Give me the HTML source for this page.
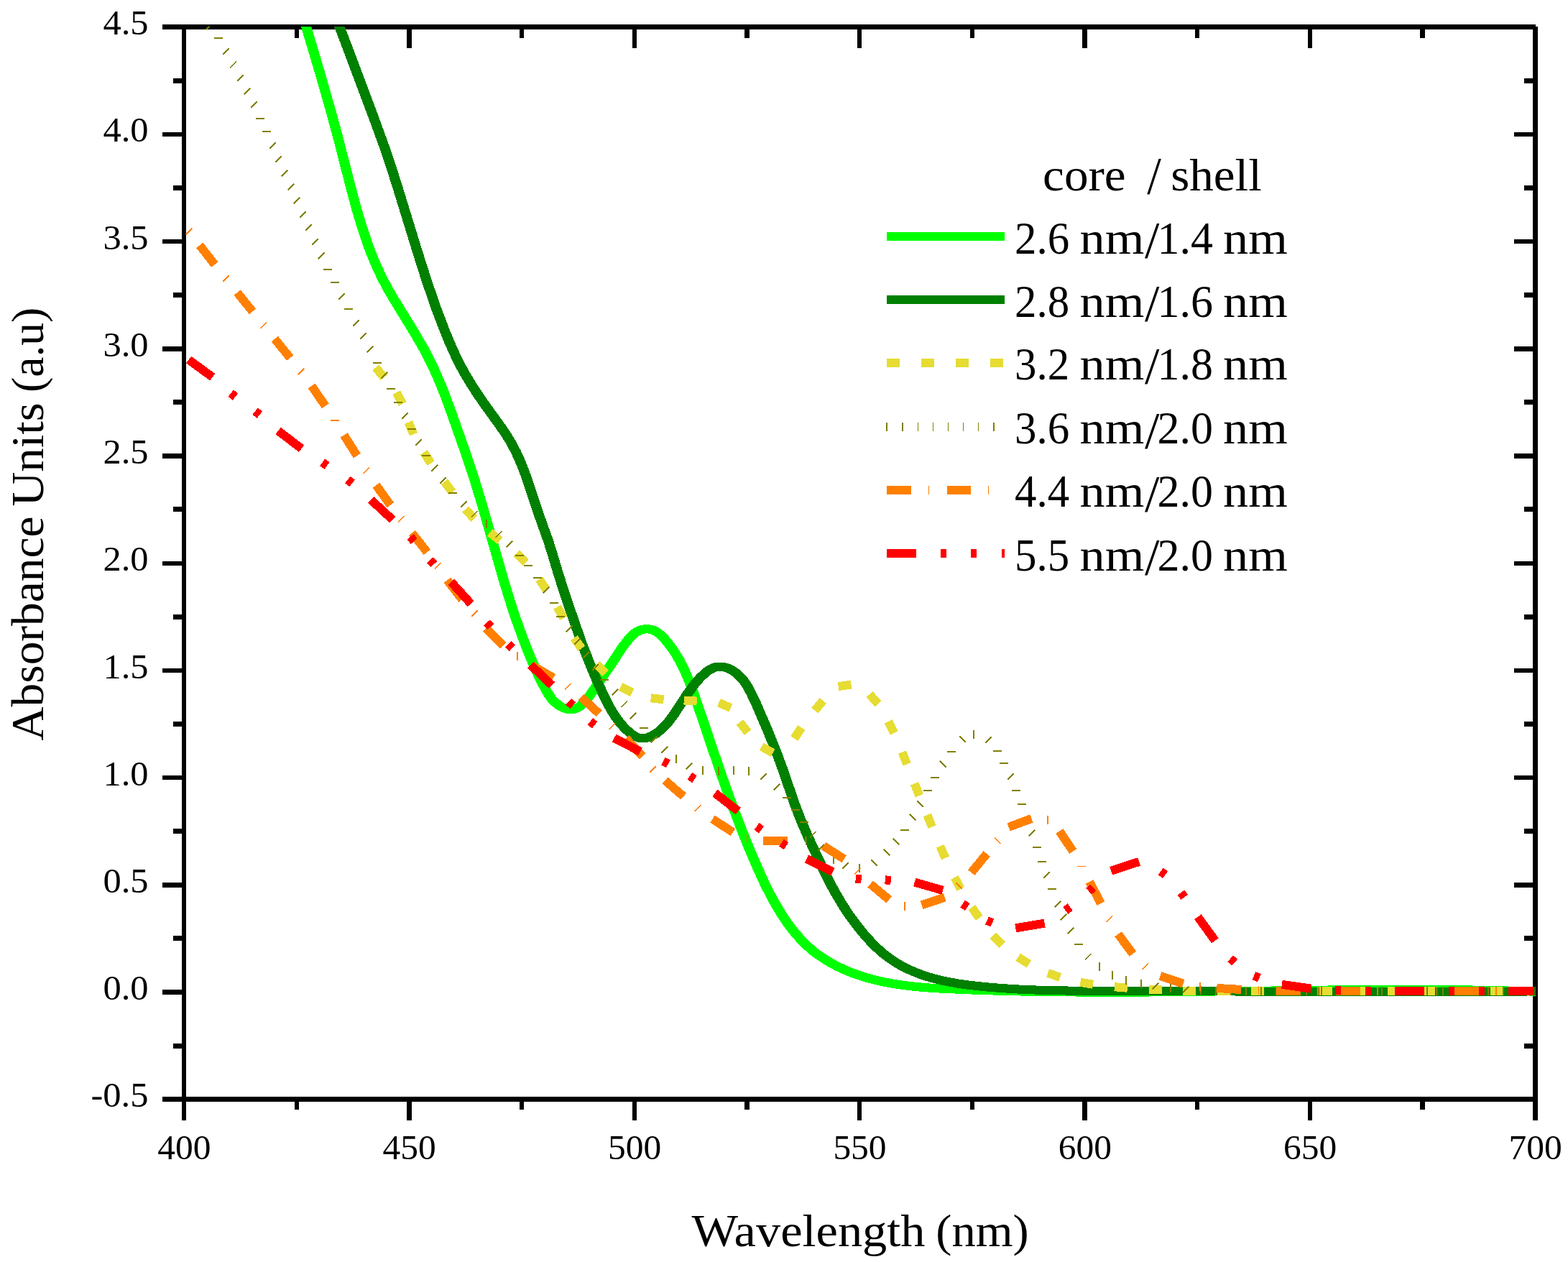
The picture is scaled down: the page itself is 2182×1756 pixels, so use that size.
<!DOCTYPE html>
<html lang="en"><head><meta charset="utf-8"><title>Absorbance spectra core/shell</title>
<style>html,body{margin:0;padding:0;background:#fff;}body{width:2182px;height:1756px;overflow:hidden;}svg{display:block;}text{font-family:"Liberation Serif","DejaVu Serif",serif;fill:#000;}.c{fill:none;stroke-width:12;stroke-linejoin:round;stroke-linecap:butt;}.m{fill:none;stroke-linecap:butt;}</style></head><body>
<svg width="2182" height="1756" viewBox="0 0 2182 1756" role="img" aria-label="Absorbance spectra of core/shell quantum dots">
<rect x="0" y="0" width="2182" height="1756" fill="#fff"/>
<defs><clipPath id="plot"><rect x="256" y="37" width="1881" height="1493"/></clipPath></defs>
<g fill="#000" shape-rendering="crispEdges">
<rect x="226" y="34" width="1911" height="7"/>
<rect x="226" y="1526" width="1914" height="7"/>
<rect x="253" y="34" width="6" height="1525"/>
<rect x="2133" y="37" width="7" height="1522"/>
<rect x="241" y="1451.5" width="13" height="7"/>
<rect x="2121" y="1451.5" width="13" height="7"/>
<rect x="226" y="1377.4" width="28" height="6.4"/>
<rect x="2107" y="1377.4" width="27" height="6.4"/>
<rect x="241" y="1302.3" width="13" height="7"/>
<rect x="2121" y="1302.3" width="13" height="7"/>
<rect x="226" y="1228.2" width="28" height="6.4"/>
<rect x="2107" y="1228.2" width="27" height="6.4"/>
<rect x="241" y="1153.1" width="13" height="7"/>
<rect x="2121" y="1153.1" width="13" height="7"/>
<rect x="226" y="1079.0" width="28" height="6.4"/>
<rect x="2107" y="1079.0" width="27" height="6.4"/>
<rect x="241" y="1003.9" width="13" height="7"/>
<rect x="2121" y="1003.9" width="13" height="7"/>
<rect x="226" y="929.8" width="28" height="6.4"/>
<rect x="2107" y="929.8" width="27" height="6.4"/>
<rect x="241" y="854.7" width="13" height="7"/>
<rect x="2121" y="854.7" width="13" height="7"/>
<rect x="226" y="780.5" width="28" height="6.4"/>
<rect x="2107" y="780.5" width="27" height="6.4"/>
<rect x="241" y="705.4" width="13" height="7"/>
<rect x="2121" y="705.4" width="13" height="7"/>
<rect x="226" y="631.3" width="28" height="6.4"/>
<rect x="2107" y="631.3" width="27" height="6.4"/>
<rect x="241" y="556.2" width="13" height="7"/>
<rect x="2121" y="556.2" width="13" height="7"/>
<rect x="226" y="482.1" width="28" height="6.4"/>
<rect x="2107" y="482.1" width="27" height="6.4"/>
<rect x="241" y="407.0" width="13" height="7"/>
<rect x="2121" y="407.0" width="13" height="7"/>
<rect x="226" y="332.9" width="28" height="6.4"/>
<rect x="2107" y="332.9" width="27" height="6.4"/>
<rect x="241" y="257.8" width="13" height="7"/>
<rect x="2121" y="257.8" width="13" height="7"/>
<rect x="226" y="183.7" width="28" height="6.4"/>
<rect x="2107" y="183.7" width="27" height="6.4"/>
<rect x="241" y="108.6" width="13" height="7"/>
<rect x="2121" y="108.6" width="13" height="7"/>
<rect x="409.5" y="40" width="6.4" height="13"/>
<rect x="409.5" y="1532" width="6.4" height="12"/>
<rect x="566.2" y="40" width="6.4" height="27"/>
<rect x="566.2" y="1532" width="6.4" height="27"/>
<rect x="722.9" y="40" width="6.4" height="13"/>
<rect x="722.9" y="1532" width="6.4" height="12"/>
<rect x="879.6" y="40" width="6.4" height="27"/>
<rect x="879.6" y="1532" width="6.4" height="27"/>
<rect x="1036.3" y="40" width="6.4" height="13"/>
<rect x="1036.3" y="1532" width="6.4" height="12"/>
<rect x="1193.0" y="40" width="6.4" height="27"/>
<rect x="1193.0" y="1532" width="6.4" height="27"/>
<rect x="1349.6" y="40" width="6.4" height="13"/>
<rect x="1349.6" y="1532" width="6.4" height="12"/>
<rect x="1506.3" y="40" width="6.4" height="27"/>
<rect x="1506.3" y="1532" width="6.4" height="27"/>
<rect x="1663.0" y="40" width="6.4" height="13"/>
<rect x="1663.0" y="1532" width="6.4" height="12"/>
<rect x="1819.7" y="40" width="6.4" height="27"/>
<rect x="1819.7" y="1532" width="6.4" height="27"/>
<rect x="1976.4" y="40" width="6.4" height="13"/>
<rect x="1976.4" y="1532" width="6.4" height="12"/>
</g>
<g font-size="48.8px">
<text x="206.5" y="1540.3" text-anchor="end" textLength="80.0" lengthAdjust="spacingAndGlyphs">-0.5</text>
<text x="206.5" y="1391.1" text-anchor="end" textLength="63.1" lengthAdjust="spacingAndGlyphs">0.0</text>
<text x="206.5" y="1241.9" text-anchor="end" textLength="63.1" lengthAdjust="spacingAndGlyphs">0.5</text>
<text x="206.5" y="1092.7" text-anchor="end" textLength="63.1" lengthAdjust="spacingAndGlyphs">1.0</text>
<text x="206.5" y="943.5" text-anchor="end" textLength="63.1" lengthAdjust="spacingAndGlyphs">1.5</text>
<text x="206.5" y="794.2" text-anchor="end" textLength="63.1" lengthAdjust="spacingAndGlyphs">2.0</text>
<text x="206.5" y="645.0" text-anchor="end" textLength="63.1" lengthAdjust="spacingAndGlyphs">2.5</text>
<text x="206.5" y="495.8" text-anchor="end" textLength="63.1" lengthAdjust="spacingAndGlyphs">3.0</text>
<text x="206.5" y="346.6" text-anchor="end" textLength="63.1" lengthAdjust="spacingAndGlyphs">3.5</text>
<text x="206.5" y="197.4" text-anchor="end" textLength="63.1" lengthAdjust="spacingAndGlyphs">4.0</text>
<text x="206.5" y="48.2" text-anchor="end" textLength="63.1" lengthAdjust="spacingAndGlyphs">4.5</text>
<text x="256.3" y="1612.7" text-anchor="middle" textLength="74.2" lengthAdjust="spacingAndGlyphs">400</text>
<text x="569.7" y="1612.7" text-anchor="middle" textLength="74.2" lengthAdjust="spacingAndGlyphs">450</text>
<text x="883.1" y="1612.7" text-anchor="middle" textLength="74.2" lengthAdjust="spacingAndGlyphs">500</text>
<text x="1196.5" y="1612.7" text-anchor="middle" textLength="74.2" lengthAdjust="spacingAndGlyphs">550</text>
<text x="1509.8" y="1612.7" text-anchor="middle" textLength="74.2" lengthAdjust="spacingAndGlyphs">600</text>
<text x="1823.2" y="1612.7" text-anchor="middle" textLength="74.2" lengthAdjust="spacingAndGlyphs">650</text>
<text x="2136.6" y="1612.7" text-anchor="middle" textLength="74.2" lengthAdjust="spacingAndGlyphs">700</text>
</g>
<text y="1734.3" font-size="62.5px"><tspan x="962.5" textLength="325" lengthAdjust="spacingAndGlyphs">Wavelength</tspan> <tspan x="1302.3" textLength="129.4" lengthAdjust="spacingAndGlyphs">(nm)</tspan></text>
<text transform="translate(60,1030.2) rotate(-90)" y="0" font-size="62.5px"><tspan x="-0.5" textLength="312.2" lengthAdjust="spacingAndGlyphs">Absorbance</tspan> <tspan x="325.4" textLength="144.5" lengthAdjust="spacingAndGlyphs">Units</tspan> <tspan x="484.2" textLength="118.3" lengthAdjust="spacingAndGlyphs">(a.u)</tspan></text>
<g clip-path="url(#plot)" shape-rendering="crispEdges">
<g class="c" stroke="#00ff00"><path transform="translate(-1,0)" d="M419.8 15.9L446.0 104.2L461.3 157.8L471.7 196.4L488.6 262.6L496.5 291.7L504.0 316.7L511.3 338.5L516.5 352.4L521.8 365.3L527.5 378.0L533.6 390.4L539.7 401.8L546.7 413.9L577.0 463.4L589.6 485.1L596.6 498.5L603.6 512.9L610.2 527.6L616.3 542.3L622.3 558.0L629.0 576.6L649.6 634.9L658.8 662.5L671.9 705.7L701.2 808.5L709.4 835.1L717.4 859.6L727.5 887.7L738.0 914.3L748.0 937.0L752.8 947.1L757.4 955.8L763.1 965.7L767.9 972.5L772.5 977.4L778.2 981.8L781.8 983.9L784.6 985.1L788.4 986.4L791.3 986.9L794.2 987.1L797.1 986.9L799.8 986.3L802.5 985.4L806.6 983.1L810.3 980.1L814.4 975.8L818.3 971.0L823.3 964.0L846.5 930.3L867.0 899.4L874.5 889.7L877.9 885.9L881.4 882.5L886.1 879.0L888.7 877.7L891.4 876.6L894.3 875.8L897.3 875.3L902.3 875.2L907.2 876.1L911.7 878.0L916.6 881.2L921.1 885.2L925.9 890.4L931.0 896.5L935.7 902.9L940.6 910.3L945.1 918.0L949.3 925.9L953.1 934.0L957.1 943.1L961.9 955.2L966.7 968.5L1001.9 1072.3L1012.1 1101.3L1022.0 1128.3L1032.6 1156.0L1043.5 1182.8L1054.7 1208.7L1064.4 1230.0L1072.7 1246.3L1080.5 1260.5L1088.3 1273.3L1096.8 1285.7L1105.2 1296.7L1114.3 1307.1L1123.4 1316.2L1132.4 1324.0L1139.7 1329.4L1148.1 1335.0L1156.7 1340.2L1165.6 1344.9L1174.6 1349.1L1184.7 1353.3L1195.0 1357.0L1205.5 1360.3L1216.1 1363.2L1227.7 1365.9L1239.5 1368.2L1252.3 1370.2L1265.1 1371.9L1279.0 1373.4L1294.0 1374.6L1311.0 1375.7L1355.0 1377.6L1404.0 1379.2L1454.0 1380.1L1508.0 1380.6L1561.0 1380.7L1620.0 1380.4L1848.9 1377.5L1945.9 1376.8L1998.9 1376.9L2047.9 1377.5L2093.9 1378.4L2139.0 1379.8"/><path transform="translate(1,0)" d="M419.8 15.9L446.0 104.2L461.3 157.8L471.7 196.4L488.6 262.6L496.5 291.7L504.0 316.7L511.3 338.5L516.5 352.4L521.8 365.3L527.5 378.0L533.6 390.4L539.7 401.8L546.7 413.9L577.0 463.4L589.6 485.1L596.6 498.5L603.6 512.9L610.2 527.6L616.3 542.3L622.3 558.0L629.0 576.6L649.6 634.9L658.8 662.5L671.9 705.7L701.2 808.5L709.4 835.1L717.4 859.6L727.5 887.7L738.0 914.3L748.0 937.0L752.8 947.1L757.4 955.8L763.1 965.7L767.9 972.5L772.5 977.4L778.2 981.8L781.8 983.9L784.6 985.1L788.4 986.4L791.3 986.9L794.2 987.1L797.1 986.9L799.8 986.3L802.5 985.4L806.6 983.1L810.3 980.1L814.4 975.8L818.3 971.0L823.3 964.0L846.5 930.3L867.0 899.4L874.5 889.7L877.9 885.9L881.4 882.5L886.1 879.0L888.7 877.7L891.4 876.6L894.3 875.8L897.3 875.3L902.3 875.2L907.2 876.1L911.7 878.0L916.6 881.2L921.1 885.2L925.9 890.4L931.0 896.5L935.7 902.9L940.6 910.3L945.1 918.0L949.3 925.9L953.1 934.0L957.1 943.1L961.9 955.2L966.7 968.5L1001.9 1072.3L1012.1 1101.3L1022.0 1128.3L1032.6 1156.0L1043.5 1182.8L1054.7 1208.7L1064.4 1230.0L1072.7 1246.3L1080.5 1260.5L1088.3 1273.3L1096.8 1285.7L1105.2 1296.7L1114.3 1307.1L1123.4 1316.2L1132.4 1324.0L1139.7 1329.4L1148.1 1335.0L1156.7 1340.2L1165.6 1344.9L1174.6 1349.1L1184.7 1353.3L1195.0 1357.0L1205.5 1360.3L1216.1 1363.2L1227.7 1365.9L1239.5 1368.2L1252.3 1370.2L1265.1 1371.9L1279.0 1373.4L1294.0 1374.6L1311.0 1375.7L1355.0 1377.6L1404.0 1379.2L1454.0 1380.1L1508.0 1380.6L1561.0 1380.7L1620.0 1380.4L1848.9 1377.5L1945.9 1376.8L1998.9 1376.9L2047.9 1377.5L2093.9 1378.4L2139.0 1379.8"/></g>
<g class="c" stroke="#008000"><path transform="translate(-1,0)" d="M463.5 15.9L473.4 39.9L484.1 67.7L521.0 166.2L534.4 203.1L542.8 227.8L551.7 255.4L581.0 350.6L592.8 387.7L605.7 425.6L618.1 458.3L626.0 477.6L633.4 493.9L640.4 508.2L648.2 522.3L656.6 536.2L666.6 551.4L676.5 565.6L696.4 593.1L705.2 606.1L709.8 613.6L714.1 621.3L718.1 629.1L722.3 638.0L727.2 649.8L732.4 663.7L749.6 715.3L762.7 751.8L766.7 764.3L778.2 802.3L786.1 826.9L793.1 847.6L811.1 899.1L823.0 928.9L833.7 953.9L842.7 973.3L850.4 987.6L856.8 997.8L863.4 1006.5L870.0 1013.8L877.2 1020.3L882.8 1024.1L886.1 1025.7L888.7 1026.6L891.3 1027.2L894.1 1027.4L896.9 1027.2L900.7 1026.5L903.5 1025.6L907.3 1024.0L913.6 1020.3L920.2 1015.1L926.0 1009.3L932.0 1002.2L938.0 994.0L957.1 964.9L965.3 953.6L970.3 947.4L975.2 942.2L980.4 937.3L985.1 933.5L990.2 930.4L995.5 928.3L1000.2 927.5L1004.9 927.7L1010.7 929.0L1016.2 931.3L1021.4 934.3L1026.8 938.5L1030.3 941.9L1033.6 945.6L1036.6 949.6L1039.4 953.8L1044.9 963.7L1051.6 977.8L1068.2 1016.2L1080.1 1045.6L1089.4 1070.9L1105.9 1119.0L1114.6 1141.5L1123.0 1161.0L1134.4 1185.8L1146.7 1211.8L1156.0 1230.4L1164.1 1245.1L1172.7 1259.5L1181.5 1272.9L1191.0 1285.8L1201.1 1298.5L1211.3 1309.9L1220.7 1319.3L1230.6 1328.0L1237.7 1333.4L1246.0 1338.9L1253.6 1343.4L1262.3 1347.9L1271.2 1351.9L1280.4 1355.5L1289.7 1358.7L1300.2 1361.7L1310.8 1364.3L1321.5 1366.5L1333.4 1368.6L1346.4 1370.5L1361.4 1372.2L1377.5 1373.8L1411.7 1376.3L1450.8 1377.9L1494.8 1378.7L1647.5 1379.1L1879.7 1380.4L2019.8 1380.5L2081.0 1380.1L2138.5 1379.3"/><path transform="translate(1,0)" d="M463.5 15.9L473.4 39.9L484.1 67.7L521.0 166.2L534.4 203.1L542.8 227.8L551.7 255.4L581.0 350.6L592.8 387.7L605.7 425.6L618.1 458.3L626.0 477.6L633.4 493.9L640.4 508.2L648.2 522.3L656.6 536.2L666.6 551.4L676.5 565.6L696.4 593.1L705.2 606.1L709.8 613.6L714.1 621.3L718.1 629.1L722.3 638.0L727.2 649.8L732.4 663.7L749.6 715.3L762.7 751.8L766.7 764.3L778.2 802.3L786.1 826.9L793.1 847.6L811.1 899.1L823.0 928.9L833.7 953.9L842.7 973.3L850.4 987.6L856.8 997.8L863.4 1006.5L870.0 1013.8L877.2 1020.3L882.8 1024.1L886.1 1025.7L888.7 1026.6L891.3 1027.2L894.1 1027.4L896.9 1027.2L900.7 1026.5L903.5 1025.6L907.3 1024.0L913.6 1020.3L920.2 1015.1L926.0 1009.3L932.0 1002.2L938.0 994.0L957.1 964.9L965.3 953.6L970.3 947.4L975.2 942.2L980.4 937.3L985.1 933.5L990.2 930.4L995.5 928.3L1000.2 927.5L1004.9 927.7L1010.7 929.0L1016.2 931.3L1021.4 934.3L1026.8 938.5L1030.3 941.9L1033.6 945.6L1036.6 949.6L1039.4 953.8L1044.9 963.7L1051.6 977.8L1068.2 1016.2L1080.1 1045.6L1089.4 1070.9L1105.9 1119.0L1114.6 1141.5L1123.0 1161.0L1134.4 1185.8L1146.7 1211.8L1156.0 1230.4L1164.1 1245.1L1172.7 1259.5L1181.5 1272.9L1191.0 1285.8L1201.1 1298.5L1211.3 1309.9L1220.7 1319.3L1230.6 1328.0L1237.7 1333.4L1246.0 1338.9L1253.6 1343.4L1262.3 1347.9L1271.2 1351.9L1280.4 1355.5L1289.7 1358.7L1300.2 1361.7L1310.8 1364.3L1321.5 1366.5L1333.4 1368.6L1346.4 1370.5L1361.4 1372.2L1377.5 1373.8L1411.7 1376.3L1450.8 1377.9L1494.8 1378.7L1647.5 1379.1L1879.7 1380.4L2019.8 1380.5L2081.0 1380.1L2138.5 1379.3"/></g>
<g class="c" stroke="#e6dc32">
<path d="M522.9 511.3L534.3 525.3"/>
<path d="M551.7 546.1L560.2 562.0"/>
<path d="M568.5 587.6L575.5 604.2"/>
<path d="M589.8 629.4L599.6 644.6"/>
<path d="M618.6 670.3L629.4 684.8"/>
<path d="M647.6 708.6L659.9 721.7"/>
<path d="M681.8 740.8L695.7 752.2"/>
<path d="M718.7 769.9L731.6 782.5"/>
<path d="M750.3 806.0L760.6 820.8"/>
<path d="M775.4 844.6L784.3 860.2"/>
<path d="M798.9 887.6L809.3 902.3"/>
<path d="M830.0 924.1L842.8 936.8"/>
<path d="M863.6 955.7L879.7 963.8"/>
<path d="M905.7 971.3L923.6 973.3"/>
<path d="M951.7 974.5L969.7 975.6"/>
<path d="M1000.4 977.7L1016.8 985.1"/>
<path d="M1029.5 1005.0L1040.7 1019.1"/>
<path d="M1059.9 1038.8L1075.5 1047.7"/>
<path d="M1105.3 1027.6L1115.3 1012.6"/>
<path d="M1133.8 988.7L1145.3 974.9"/>
<path d="M1166.7 955.1L1184.5 952.6"/>
<path d="M1210.0 966.1L1222.1 979.4"/>
<path d="M1236.3 1003.7L1244.3 1019.9"/>
<path d="M1255.5 1046.7L1262.2 1063.4"/>
<path d="M1272.7 1090.4L1279.3 1107.1"/>
<path d="M1290.3 1134.0L1297.1 1150.6"/>
<path d="M1308.3 1177.4L1315.5 1193.9"/>
<path d="M1328.4 1221.0L1336.9 1236.9"/>
<path d="M1352.5 1262.5L1362.7 1277.4"/>
<path d="M1382.0 1301.7L1394.7 1314.4"/>
<path d="M1416.7 1331.9L1432.0 1341.4"/>
<path d="M1458.2 1354.0L1475.2 1359.8"/>
<path d="M1503.4 1366.9L1521.1 1369.8"/>
<path d="M1550.9 1373.2L1568.9 1374.7"/>
<path d="M1598.8 1376.5L1616.8 1377.4"/>
<path d="M1646.3 1378.7L1664.3 1379.0"/>
<path d="M1693.8 1379.1L1711.8 1379.2"/>
<path d="M1741.3 1379.3L1759.3 1379.3"/>
<path d="M1788.8 1379.3L1806.8 1379.3"/>
<path d="M1836.3 1379.3L1854.3 1379.3"/>
<path d="M1883.8 1379.3L1901.8 1379.3"/>
<path d="M1931.3 1379.3L1949.3 1379.3"/>
<path d="M1978.8 1379.3L1996.8 1379.3"/>
<path d="M2026.3 1379.3L2044.3 1379.3"/>
<path d="M2073.8 1379.3L2091.8 1379.3"/>
<path d="M2121.3 1379.3L2134.4 1379.3"/>
</g>
<g class="m" stroke="#808000" stroke-width="2">
<path d="M286.5 41.4L295.1 32.8"/>
<path d="M298.2 53.3L310.2 53.3"/>
<path d="M310.3 75.8L318.9 67.2"/>
<path d="M320.2 94.3L328.8 85.7"/>
<path d="M330.2 112.8L338.8 104.2"/>
<path d="M339.7 131.5L348.3 122.9"/>
<path d="M349.2 150.2L357.8 141.6"/>
<path d="M356.1 165.1L368.1 165.1"/>
<path d="M364.8 183.1L376.8 183.1"/>
<path d="M375.2 206.5L383.8 197.9"/>
<path d="M383.5 225.8L392.1 217.2"/>
<path d="M391.8 245.1L400.4 236.5"/>
<path d="M400.4 264.3L409.0 255.7"/>
<path d="M408.7 283.6L417.3 275.0"/>
<path d="M416.9 302.9L425.5 294.3"/>
<path d="M425.1 321.1L433.7 312.5"/>
<path d="M434.2 341.2L442.8 332.6"/>
<path d="M443.0 360.2L451.6 351.6"/>
<path d="M450.1 375.0L462.1 375.0"/>
<path d="M460.1 393.4L472.1 393.4"/>
<path d="M471.2 416.5L479.8 407.9"/>
<path d="M478.8 429.9L490.8 429.9"/>
<path d="M491.1 453.5L499.7 444.9"/>
<path d="M501.0 472.0L509.6 463.4"/>
<path d="M510.7 490.6L519.3 482.0"/>
<path d="M519.2 504.7L531.2 504.7"/>
<path d="M530.5 526.5L539.1 517.9"/>
<path d="M538.3 540.9L550.3 540.9"/>
<path d="M548.1 559.5L560.1 559.5"/>
<path d="M559.2 582.6L567.8 574.0"/>
<path d="M566.7 597.2L578.7 597.2"/>
<path d="M578.3 620.0L586.9 611.4"/>
<path d="M587.4 633.7L599.4 633.7"/>
<path d="M600.5 655.6L609.1 647.0"/>
<path d="M612.2 673.1L620.8 664.5"/>
<path d="M624.1 686.1L636.1 686.1"/>
<path d="M641.4 705.9L650.0 697.3"/>
<path d="M656.1 719.4L664.7 710.8"/>
<path d="M677.3 723.1L677.3 735.1"/>
<path d="M689.7 747.8L698.3 739.2"/>
<path d="M704.5 761.3L713.1 752.7"/>
<path d="M716.9 772.5L728.9 772.5"/>
<path d="M729.0 787.2L741.0 787.2"/>
<path d="M741.6 804.0L753.6 804.0"/>
<path d="M755.4 825.4L764.0 816.8"/>
<path d="M764.8 839.0L776.8 839.0"/>
<path d="M774.4 857.6L786.4 857.6"/>
<path d="M788.0 879.2L796.6 870.6"/>
<path d="M799.5 896.8L808.1 888.2"/>
<path d="M811.6 915.1L820.2 906.5"/>
<path d="M824.4 933.0L833.0 924.4"/>
<path d="M835.0 945.7L847.0 945.7"/>
<path d="M851.9 967.3L860.5 958.7"/>
<path d="M864.4 984.1L873.0 975.5"/>
<path d="M876.6 1000.0L885.2 991.4"/>
<path d="M889.9 1013.1L901.9 1013.1"/>
<path d="M905.7 1033.0L914.3 1024.4"/>
<path d="M920.6 1047.8L929.2 1039.2"/>
<path d="M940.7 1049.7L940.7 1061.7"/>
<path d="M954.7 1070.2L963.3 1061.6"/>
<path d="M978.0 1066.1L978.0 1078.1"/>
<path d="M999.9 1067.1L999.9 1079.1"/>
<path d="M1020.9 1066.0L1020.9 1078.0"/>
<path d="M1041.8 1067.2L1041.8 1079.2"/>
<path d="M1058.1 1084.6L1066.7 1076.0"/>
<path d="M1076.9 1099.5L1085.5 1090.9"/>
<path d="M1088.8 1109.9L1100.8 1109.9"/>
<path d="M1101.0 1127.0L1113.0 1127.0"/>
<path d="M1113.0 1144.2L1125.0 1144.2"/>
<path d="M1126.8 1165.7L1135.4 1157.1"/>
<path d="M1138.5 1183.1L1147.1 1174.5"/>
<path d="M1159.9 1189.7L1159.9 1201.7"/>
<path d="M1172.1 1209.1L1180.7 1200.5"/>
<path d="M1195.9 1202.2L1195.9 1214.2"/>
<path d="M1211.9 1196.3L1220.5 1204.9"/>
<path d="M1229.7 1181.6L1238.3 1190.2"/>
<path d="M1242.9 1166.6L1251.5 1175.2"/>
<path d="M1252.8 1154.6L1264.8 1154.6"/>
<path d="M1266.0 1132.8L1274.6 1141.4"/>
<path d="M1276.3 1114.5L1284.9 1123.1"/>
<path d="M1284.7 1100.4L1296.7 1100.4"/>
<path d="M1294.9 1082.0L1306.9 1082.0"/>
<path d="M1308.1 1058.9L1316.7 1067.5"/>
<path d="M1318.0 1045.7L1330.0 1045.7"/>
<path d="M1335.2 1024.5L1343.8 1033.1"/>
<path d="M1354.6 1016.0L1354.6 1028.0"/>
<path d="M1371.2 1033.9L1379.8 1025.3"/>
<path d="M1381.7 1045.3L1393.7 1045.3"/>
<path d="M1391.3 1061.8L1403.3 1061.8"/>
<path d="M1402.2 1084.9L1410.8 1076.3"/>
<path d="M1408.2 1100.2L1420.2 1100.2"/>
<path d="M1415.6 1118.7L1427.6 1118.7"/>
<path d="M1424.8 1143.2L1433.4 1134.6"/>
<path d="M1431.8 1163.5L1440.4 1154.9"/>
<path d="M1436.7 1179.2L1448.7 1179.2"/>
<path d="M1443.6 1199.0L1455.6 1199.0"/>
<path d="M1452.1 1222.1L1460.7 1213.5"/>
<path d="M1458.0 1237.4L1470.0 1237.4"/>
<path d="M1467.8 1262.1L1476.4 1253.5"/>
<path d="M1475.9 1280.4L1484.5 1271.8"/>
<path d="M1485.6 1299.1L1494.2 1290.5"/>
<path d="M1494.7 1313.9L1506.7 1313.9"/>
<path d="M1510.0 1335.5L1518.6 1326.9"/>
<path d="M1529.7 1339.4L1529.7 1351.4"/>
<path d="M1548.4 1350.9L1548.4 1362.9"/>
<path d="M1567.0 1358.3L1567.0 1370.3"/>
<path d="M1587.5 1362.8L1587.5 1374.8"/>
<path d="M1603.9 1376.2L1612.5 1367.6"/>
<path d="M1629.1 1368.8L1629.1 1380.8"/>
<path d="M1645.7 1381.0L1654.3 1372.4"/>
<path d="M1671.0 1372.1L1671.0 1384.1"/>
<path d="M1692.0 1372.9L1692.0 1384.9"/>
<path d="M1713.0 1373.1L1713.0 1385.1"/>
<path d="M1734.1 1373.2L1734.1 1385.2"/>
<path d="M1755.1 1373.2L1755.1 1385.2"/>
<path d="M1776.1 1373.3L1776.1 1385.3"/>
<path d="M1797.2 1373.3L1797.2 1385.3"/>
<path d="M1818.2 1373.3L1818.2 1385.3"/>
<path d="M1839.2 1373.3L1839.2 1385.3"/>
<path d="M1860.2 1373.3L1860.2 1385.3"/>
<path d="M1881.3 1373.3L1881.3 1385.3"/>
<path d="M1902.3 1373.3L1902.3 1385.3"/>
<path d="M1923.3 1373.3L1923.3 1385.3"/>
<path d="M1944.4 1373.3L1944.4 1385.3"/>
<path d="M1965.4 1373.3L1965.4 1385.3"/>
<path d="M1986.4 1373.3L1986.4 1385.3"/>
<path d="M2007.5 1373.3L2007.5 1385.3"/>
<path d="M2028.5 1373.3L2028.5 1385.3"/>
<path d="M2049.5 1373.3L2049.5 1385.3"/>
<path d="M2070.5 1373.3L2070.5 1385.3"/>
<path d="M2091.6 1373.3L2091.6 1385.3"/>
<path d="M2112.6 1373.3L2112.6 1385.3"/>
<path d="M2133.6 1373.3L2133.6 1385.3"/>
</g>
<g class="c" stroke="#ff8000">
<path d="M238.4 292.7L247.3 303.4"/>
<path d="M277.8 341.3L298.8 368.1"/>
<path d="M330.1 407.1L351.5 433.5"/>
<path d="M382.3 471.6L403.7 498.0"/>
<path d="M433.6 536.9L452.8 564.9"/>
<path d="M478.7 605.4L496.8 634.1"/>
<path d="M523.5 675.2L543.3 702.8"/>
<path d="M573.3 741.6L594.4 768.3"/>
<path d="M622.4 807.2L643.1 834.2"/>
<path d="M676.5 874.1L700.3 898.4"/>
<path d="M740.6 926.1L770.1 943.1"/>
<path d="M808.6 969.9L833.7 992.9"/>
<path d="M871.2 1027.4L894.2 1052.4"/>
<path d="M925.4 1086.0L951.2 1108.2"/>
<path d="M991.5 1139.6L1020.0 1158.1"/>
<path d="M1062.0 1169.9L1095.9 1170.4"/>
<path d="M1146.0 1177.1L1174.7 1195.3"/>
<path d="M1211.1 1230.0L1237.2 1251.8"/>
<path d="M1282.5 1259.3L1314.7 1248.5"/>
<path d="M1351.7 1214.2L1373.2 1187.9"/>
<path d="M1403.6 1150.9L1435.5 1139.0"/>
<path d="M1474.3 1156.4L1493.2 1184.7"/>
<path d="M1516.3 1227.0L1531.9 1257.2"/>
<path d="M1556.1 1299.8L1576.3 1327.2"/>
<path d="M1614.5 1357.9L1646.7 1368.8"/>
<path d="M1693.3 1374.9L1727.3 1377.0"/>
<path d="M1775.9 1379.0L1809.9 1379.1"/>
<path d="M1858.6 1379.3L1892.6 1379.3"/>
<path d="M1941.3 1379.3L1975.3 1379.3"/>
<path d="M2023.9 1379.3L2057.9 1379.3"/>
<path d="M2106.6 1379.3L2133.8 1379.3"/>
</g>
<g class="m" stroke="#ff8000" stroke-width="1.7">
<path d="M258.5 326.5L267.1 317.9"/>
<path d="M310.0 392.0L318.6 383.4"/>
<path d="M362.6 456.9L371.2 448.3"/>
<path d="M414.7 521.5L423.3 512.9"/>
<path d="M459.7 585.2L471.7 585.2"/>
<path d="M505.6 659.2L514.2 650.6"/>
<path d="M553.9 726.6L562.5 718.0"/>
<path d="M604.8 791.5L613.4 782.9"/>
<path d="M656.1 857.9L664.7 849.3"/>
<path d="M719.8 907.2L719.8 919.2"/>
<path d="M785.8 959.7L794.4 951.1"/>
<path d="M847.6 1015.0L856.2 1006.4"/>
<path d="M904.3 1074.7L912.9 1066.1"/>
<path d="M966.6 1128.7L975.2 1120.1"/>
<path d="M1040.1 1160.8L1040.1 1172.8"/>
<path d="M1121.6 1163.8L1121.6 1175.8"/>
<path d="M1189.1 1216.5L1197.7 1207.9"/>
<path d="M1258.8 1254.6L1258.8 1266.6"/>
<path d="M1330.0 1228.1L1338.6 1236.7"/>
<path d="M1384.2 1165.5L1392.8 1174.1"/>
<path d="M1458.2 1134.9L1458.2 1146.9"/>
<path d="M1499.3 1205.6L1511.3 1205.6"/>
<path d="M1539.4 1283.0L1548.0 1274.4"/>
<path d="M1589.5 1348.8L1598.1 1340.2"/>
<path d="M1669.9 1366.5L1669.9 1378.5"/>
<path d="M1751.6 1372.2L1751.6 1384.2"/>
<path d="M1834.2 1373.2L1834.2 1385.2"/>
<path d="M1916.9 1373.3L1916.9 1385.3"/>
<path d="M1999.6 1373.3L1999.6 1385.3"/>
<path d="M2082.3 1373.3L2082.3 1385.3"/>
</g>
<g class="c" stroke="#ff0000">
<path d="M232.8 482.0L234.0 482.8"/>
<path d="M262.6 500.6L295.7 524.7"/>
<path d="M321.3 547.2L327.6 552.1"/>
<path d="M355.0 572.2L361.3 577.1"/>
<path d="M387.1 599.4L419.6 624.3"/>
<path d="M448.6 643.4L455.2 647.9"/>
<path d="M483.8 667.5L490.1 672.4"/>
<path d="M516.1 695.3L546.2 723.2"/>
<path d="M570.8 747.1L576.3 752.9"/>
<path d="M598.5 779.1L603.8 785.1"/>
<path d="M627.8 809.7L655.2 840.1"/>
<path d="M677.5 866.3L682.9 872.2"/>
<path d="M707.4 896.3L713.1 901.8"/>
<path d="M738.3 925.2L768.0 953.4"/>
<path d="M791.5 976.2L797.3 981.7"/>
<path d="M821.3 1003.8L827.6 1008.8"/>
<path d="M854.7 1027.1L891.2 1045.8"/>
<path d="M922.8 1059.2L929.9 1062.8"/>
<path d="M959.8 1079.8L966.5 1084.1"/>
<path d="M994.9 1103.5L1027.3 1128.6"/>
<path d="M1053.0 1149.9L1059.5 1154.6"/>
<path d="M1087.4 1172.8L1094.1 1177.1"/>
<path d="M1122.3 1195.0L1159.1 1213.1"/>
<path d="M1190.7 1222.7L1198.6 1223.3"/>
<path d="M1231.7 1224.4L1239.7 1224.9"/>
<path d="M1272.7 1227.5L1312.1 1238.9"/>
<path d="M1339.7 1257.6L1346.3 1262.0"/>
<path d="M1373.5 1280.9L1380.8 1284.2"/>
<path d="M1413.2 1291.5L1453.6 1284.6"/>
<path d="M1482.7 1266.9L1489.2 1262.2"/>
<path d="M1515.2 1240.2L1521.1 1234.8"/>
<path d="M1546.1 1211.7L1585.1 1199.0"/>
<path d="M1615.1 1212.4L1621.5 1217.2"/>
<path d="M1643.4 1241.9L1648.3 1248.3"/>
<path d="M1666.9 1275.7L1690.9 1308.9"/>
<path d="M1712.2 1333.8L1718.1 1339.2"/>
<path d="M1745.0 1357.7L1752.4 1360.8"/>
<path d="M1783.9 1369.8L1824.5 1375.6"/>
<path d="M1858.1 1378.1L1866.1 1378.4"/>
<path d="M1899.7 1379.0L1907.7 1379.1"/>
<path d="M1941.4 1379.3L1982.4 1379.3"/>
<path d="M2016.0 1379.3L2024.0 1379.3"/>
<path d="M2057.7 1379.3L2065.7 1379.3"/>
<path d="M2099.3 1379.3L2134.6 1379.3"/>
</g>
</g>
<g font-size="62.4px">
<text y="264.6"><tspan x="1451.1" textLength="115.6" lengthAdjust="spacingAndGlyphs">core</tspan> <tspan x="1596.3" dy="5.8" font-size="73px" textLength="19.6" lengthAdjust="spacingAndGlyphs">/</tspan> <tspan x="1629.2" dy="-5.8" textLength="126.6" lengthAdjust="spacingAndGlyphs">shell</tspan></text>
<text y="352.8"><tspan x="1412.1" textLength="76.2" lengthAdjust="spacingAndGlyphs">2.6</tspan> <tspan x="1502.6" textLength="89.7" lengthAdjust="spacingAndGlyphs">nm</tspan><tspan x="1593" dy="5.3" font-size="72.5px" textLength="20.4" lengthAdjust="spacingAndGlyphs">/</tspan><tspan x="1610.6" dy="-5.3" textLength="77.5" lengthAdjust="spacingAndGlyphs">1.4</tspan> <tspan x="1702.1" textLength="89.7" lengthAdjust="spacingAndGlyphs">nm</tspan></text>
<text y="440.6"><tspan x="1412.1" textLength="76.2" lengthAdjust="spacingAndGlyphs">2.8</tspan> <tspan x="1502.6" textLength="89.7" lengthAdjust="spacingAndGlyphs">nm</tspan><tspan x="1593" dy="5.3" font-size="72.5px" textLength="20.4" lengthAdjust="spacingAndGlyphs">/</tspan><tspan x="1610.6" dy="-5.3" textLength="77.5" lengthAdjust="spacingAndGlyphs">1.6</tspan> <tspan x="1702.1" textLength="89.7" lengthAdjust="spacingAndGlyphs">nm</tspan></text>
<text y="527.9"><tspan x="1412.1" textLength="76.2" lengthAdjust="spacingAndGlyphs">3.2</tspan> <tspan x="1502.6" textLength="89.7" lengthAdjust="spacingAndGlyphs">nm</tspan><tspan x="1593" dy="5.3" font-size="72.5px" textLength="20.4" lengthAdjust="spacingAndGlyphs">/</tspan><tspan x="1610.6" dy="-5.3" textLength="77.5" lengthAdjust="spacingAndGlyphs">1.8</tspan> <tspan x="1702.1" textLength="89.7" lengthAdjust="spacingAndGlyphs">nm</tspan></text>
<text y="617.2"><tspan x="1412.1" textLength="76.2" lengthAdjust="spacingAndGlyphs">3.6</tspan> <tspan x="1502.6" textLength="89.7" lengthAdjust="spacingAndGlyphs">nm</tspan><tspan x="1593" dy="5.3" font-size="72.5px" textLength="20.4" lengthAdjust="spacingAndGlyphs">/</tspan><tspan x="1610.6" dy="-5.3" textLength="77.5" lengthAdjust="spacingAndGlyphs">2.0</tspan> <tspan x="1702.1" textLength="89.7" lengthAdjust="spacingAndGlyphs">nm</tspan></text>
<text y="705.3"><tspan x="1412.1" textLength="76.2" lengthAdjust="spacingAndGlyphs">4.4</tspan> <tspan x="1502.6" textLength="89.7" lengthAdjust="spacingAndGlyphs">nm</tspan><tspan x="1593" dy="5.3" font-size="72.5px" textLength="20.4" lengthAdjust="spacingAndGlyphs">/</tspan><tspan x="1610.6" dy="-5.3" textLength="77.5" lengthAdjust="spacingAndGlyphs">2.0</tspan> <tspan x="1702.1" textLength="89.7" lengthAdjust="spacingAndGlyphs">nm</tspan></text>
<text y="793.8"><tspan x="1412.1" textLength="76.2" lengthAdjust="spacingAndGlyphs">5.5</tspan> <tspan x="1502.6" textLength="89.7" lengthAdjust="spacingAndGlyphs">nm</tspan><tspan x="1593" dy="5.3" font-size="72.5px" textLength="20.4" lengthAdjust="spacingAndGlyphs">/</tspan><tspan x="1610.6" dy="-5.3" textLength="77.5" lengthAdjust="spacingAndGlyphs">2.0</tspan> <tspan x="1702.1" textLength="89.7" lengthAdjust="spacingAndGlyphs">nm</tspan></text>
</g>
<g shape-rendering="crispEdges">
<rect x="1234" y="323" width="164" height="12" fill="#00ff00"/>
<rect x="1234" y="411" width="164" height="12" fill="#008000"/>
<rect x="1234" y="499" width="18" height="12" fill="#e6dc32"/>
<rect x="1282" y="499" width="18" height="12" fill="#e6dc32"/>
<rect x="1330" y="499" width="18" height="12" fill="#e6dc32"/>
<rect x="1378" y="499" width="18" height="12" fill="#e6dc32"/>
<rect x="1233.4" y="588" width="1.4" height="12" fill="#808000"/>
<rect x="1255.1" y="588" width="1.4" height="12" fill="#808000"/>
<rect x="1276.5" y="588" width="1.4" height="12" fill="#808000"/>
<rect x="1297.6" y="588" width="1.4" height="12" fill="#808000"/>
<rect x="1318.6" y="588" width="1.4" height="12" fill="#808000"/>
<rect x="1339.7" y="588" width="1.4" height="12" fill="#808000"/>
<rect x="1360.8" y="588" width="1.4" height="12" fill="#808000"/>
<rect x="1382.2" y="588" width="1.4" height="12" fill="#808000"/>
<rect x="1234" y="676" width="34" height="12" fill="#ff8000"/>
<rect x="1292" y="676" width="1" height="12" fill="#ff8000"/>
<rect x="1318" y="676" width="33" height="12" fill="#ff8000"/>
<rect x="1375" y="676" width="1" height="12" fill="#ff8000"/>
<rect x="1234" y="764" width="41" height="12" fill="#ff0000"/>
<rect x="1309" y="764" width="8" height="12" fill="#ff0000"/>
<rect x="1351" y="764" width="8" height="12" fill="#ff0000"/>
<rect x="1394" y="764" width="4" height="12" fill="#ff0000"/>
</g>
</svg></body></html>
